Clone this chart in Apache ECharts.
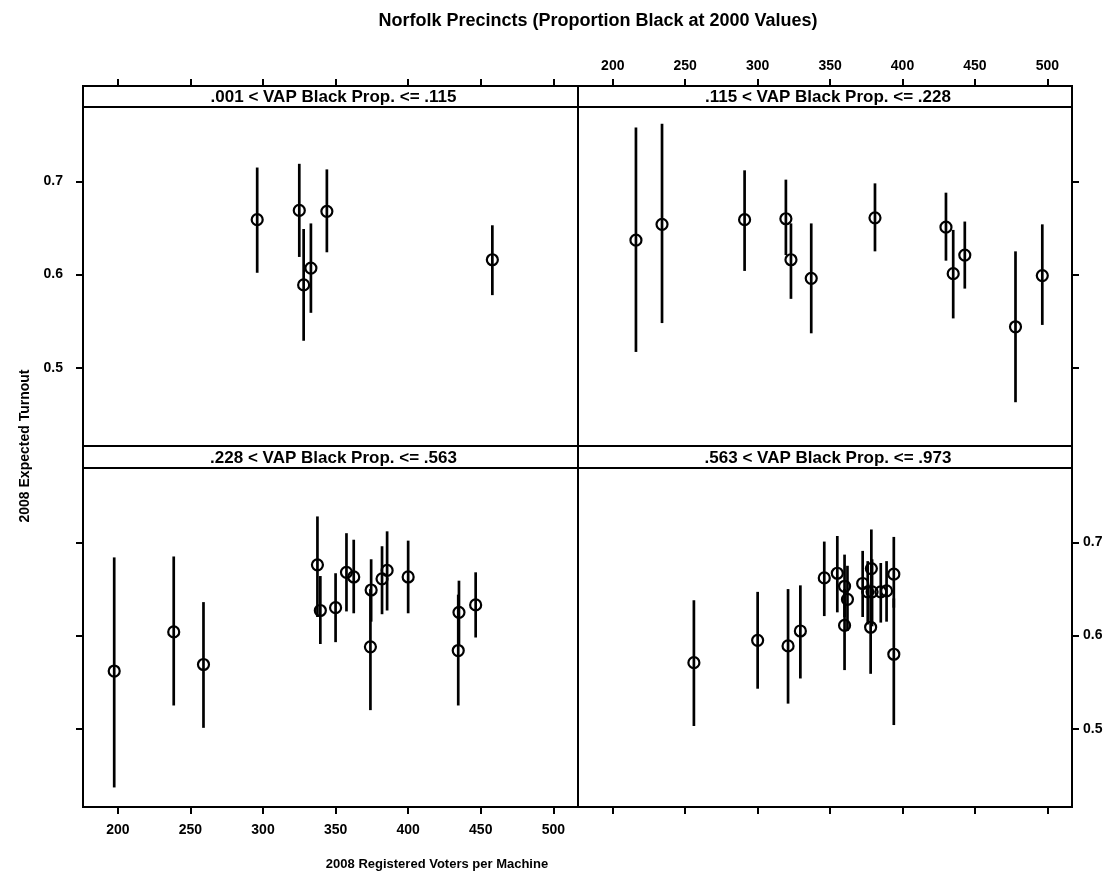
<!DOCTYPE html>
<html>
<head>
<meta charset="utf-8">
<script src="https://cdn.jsdelivr.net/npm/echarts@6/dist/echarts.min.js"></script>
<style>
  html, body { margin: 0; padding: 0; background: #fff; }
  #chart { width: 1117px; height: 877px; }
</style>
</head>
<body>
<div id="chart"></div>
<script>
// rows: [registered voters per machine, expected turnout, lower, upper]
const panelA = [
  [296, 0.659, 0.602, 0.715],
  [325, 0.669, 0.619, 0.719],
  [344, 0.668, 0.624, 0.713],
  [328, 0.589, 0.529, 0.649],
  [333, 0.607, 0.559, 0.655],
  [458, 0.616, 0.578, 0.653]
];
const panelB = [
  [216, 0.637, 0.517, 0.758],
  [234, 0.654, 0.548, 0.762],
  [291, 0.659, 0.604, 0.712],
  [319.5, 0.660, 0.621, 0.702],
  [323, 0.616, 0.574, 0.655],
  [337, 0.596, 0.537, 0.655],
  [381, 0.661, 0.625, 0.698],
  [430, 0.651, 0.615, 0.688],
  [435, 0.601, 0.553, 0.648],
  [443, 0.621, 0.585, 0.657],
  [478, 0.544, 0.463, 0.625],
  [496.5, 0.599, 0.546, 0.654]
];
const panelC = [
  [197.5, 0.562, 0.437, 0.684],
  [238.5, 0.604, 0.525, 0.685],
  [259, 0.569, 0.501, 0.636],
  [337.5, 0.676, 0.620, 0.728],
  [339.5, 0.627, 0.591, 0.664],
  [350, 0.630, 0.593, 0.667],
  [357.5, 0.668, 0.626, 0.710],
  [362.5, 0.663, 0.624, 0.703],
  [374.5, 0.649, 0.615, 0.682],
  [374, 0.588, 0.520, 0.650],
  [382, 0.661, 0.623, 0.696],
  [385.5, 0.670, 0.627, 0.712],
  [400, 0.663, 0.624, 0.702],
  [435, 0.625, 0.590, 0.659],
  [434.5, 0.584, 0.525, 0.644],
  [446.5, 0.633, 0.598, 0.668]
];
const panelD = [
  [256, 0.571, 0.503, 0.638],
  [300, 0.595, 0.543, 0.647],
  [321, 0.589, 0.527, 0.650],
  [329.5, 0.605, 0.554, 0.654],
  [346, 0.662, 0.621, 0.701],
  [355, 0.667, 0.625, 0.707],
  [360, 0.653, 0.620, 0.687],
  [362, 0.639, 0.605, 0.675],
  [360, 0.611, 0.563, 0.650],
  [372.5, 0.656, 0.620, 0.691],
  [378.5, 0.672, 0.630, 0.714],
  [376, 0.647, 0.612, 0.680],
  [379, 0.647, 0.610, 0.682],
  [378, 0.609, 0.559, 0.655],
  [385, 0.647, 0.614, 0.678],
  [389, 0.648, 0.615, 0.680],
  [394, 0.666, 0.630, 0.706],
  [394, 0.580, 0.504, 0.640]
];
const stripLabels = [
  '.001 < VAP Black Prop. <= .115',
  '.115 < VAP Black Prop. <= .228',
  '.228 < VAP Black Prop. <= .563',
  '.563 < VAP Black Prop. <= .973'
];
const xTicks = [200, 250, 300, 350, 400, 450, 500];
const yTicks = [0.5, 0.6, 0.7];

const font = 'Liberation Sans, Arial, sans-serif';
const chart = echarts.init(document.getElementById('chart'));

// panel boxes (plot area only; strips sit on top of each)
const panels = [
  { left: 83, top: 107, width: 495, height: 339, stripTop: 86 },
  { left: 578, top: 107, width: 494, height: 339, stripTop: 86 },
  { left: 83, top: 468, width: 495, height: 339, stripTop: 446 },
  { left: 578, top: 468, width: 494, height: 339, stripTop: 446 }
];

const xAxisCfg = [
  { position: 'top', offset: 21, label: false },
  { position: 'top', offset: 21, label: true },
  { position: 'bottom', offset: 0, label: true },
  { position: 'bottom', offset: 0, label: false }
];
const yAxisCfg = [
  { position: 'left', label: true },
  { position: 'right', label: false },
  { position: 'left', label: false },
  { position: 'right', label: true }
];

const renderBar = function (params, api) {
  const c = api.coord([api.value(0), api.value(1)]);
  const lo = api.coord([api.value(0), api.value(2)]);
  const hi = api.coord([api.value(0), api.value(3)]);
  return {
    type: 'group',
    children: [
      {
        type: 'line',
        shape: { x1: lo[0], y1: lo[1], x2: hi[0], y2: hi[1] },
        style: { stroke: '#000', lineWidth: 2.7 }
      },
      {
        type: 'circle',
        shape: { cx: c[0], cy: c[1], r: 5.5 },
        style: { fill: 'none', stroke: '#000', lineWidth: 2.2 }
      }
    ]
  };
};

const graphics = [];
panels.forEach((p, i) => {
  // strip box
  graphics.push({
    type: 'rect',
    z: 10,
    shape: { x: p.left, y: p.stripTop, width: p.width, height: p.top - p.stripTop },
    style: { fill: '#fff', stroke: '#000', lineWidth: 2 }
  });
  graphics.push({
    type: 'text',
    z: 11,
    style: {
      text: stripLabels[i],
      x: p.left + p.width / 2 + 3,
      y: (p.stripTop + p.top) / 2 + 1,
      textAlign: 'center',
      textVerticalAlign: 'middle',
      fontFamily: font,
      fontWeight: 'bold',
      fontSize: 17,
      fill: '#000'
    }
  });
});

graphics.push({
  type: 'text',
  style: {
    text: 'Norfolk Precincts (Proportion Black at 2000 Values)',
    x: 598, y: 21,
    textAlign: 'center', textVerticalAlign: 'middle',
    fontFamily: font, fontWeight: 'bold', fontSize: 18, fill: '#000'
  }
});
graphics.push({
  type: 'text',
  style: {
    text: '2008 Registered Voters per Machine',
    x: 437, y: 864,
    textAlign: 'center', textVerticalAlign: 'middle',
    fontFamily: font, fontWeight: 'bold', fontSize: 13, fill: '#000'
  }
});
graphics.push({
  type: 'text',
  x: 25, y: 446,
  rotation: Math.PI / 2,
  style: {
    text: '2008 Expected Turnout',
    x: 0, y: 0,
    textAlign: 'center', textVerticalAlign: 'middle',
    fontFamily: font, fontWeight: 'bold', fontSize: 14, fill: '#000'
  }
});

const option = {
  backgroundColor: '#fff',
  animation: false,
  grid: panels.map((p) => ({
    left: p.left, top: p.top, width: p.width, height: p.height,
    show: true, borderColor: '#000', borderWidth: 2, backgroundColor: '#fff'
  })),
  xAxis: panels.map((p, i) => ({
    type: 'value',
    gridIndex: i,
    min: 176,
    max: 517,
    position: xAxisCfg[i].position,
    offset: xAxisCfg[i].offset,
    axisLine: { show: false },
    splitLine: { show: false },
    axisTick: {
      show: true, length: 7, customValues: xTicks,
      lineStyle: { color: '#000', width: 2 }
    },
    axisLabel: {
      show: xAxisCfg[i].label,
      customValues: xTicks,
      margin: xAxisCfg[i].position === 'top' ? 13 : 16,
      color: '#000', fontFamily: font, fontWeight: 'bold', fontSize: 14
    }
  })),
  yAxis: panels.map((p, i) => ({
    type: 'value',
    gridIndex: i,
    min: 0.416,
    max: 0.780,
    position: yAxisCfg[i].position,
    axisLine: { show: false },
    splitLine: { show: false },
    axisTick: {
      show: true, length: 7, customValues: yTicks,
      lineStyle: { color: '#000', width: 2 }
    },
    axisLabel: {
      show: yAxisCfg[i].label,
      customValues: yTicks,
      margin: yAxisCfg[i].position === 'left' ? 20 : 11,
      formatter: (v) => v.toFixed(1),
      color: '#000', fontFamily: font, fontWeight: 'bold', fontSize: 14
    }
  })),
  graphic: graphics,
  series: [panelA, panelB, panelC, panelD].map((rows, i) => ({
    type: 'custom',
    xAxisIndex: i,
    yAxisIndex: i,
    renderItem: renderBar,
    encode: { x: 0, y: [1, 2, 3] },
    data: rows
  }))
};

chart.setOption(option);
window.addEventListener('resize', () => chart.resize());
</script>
</body>
</html>
